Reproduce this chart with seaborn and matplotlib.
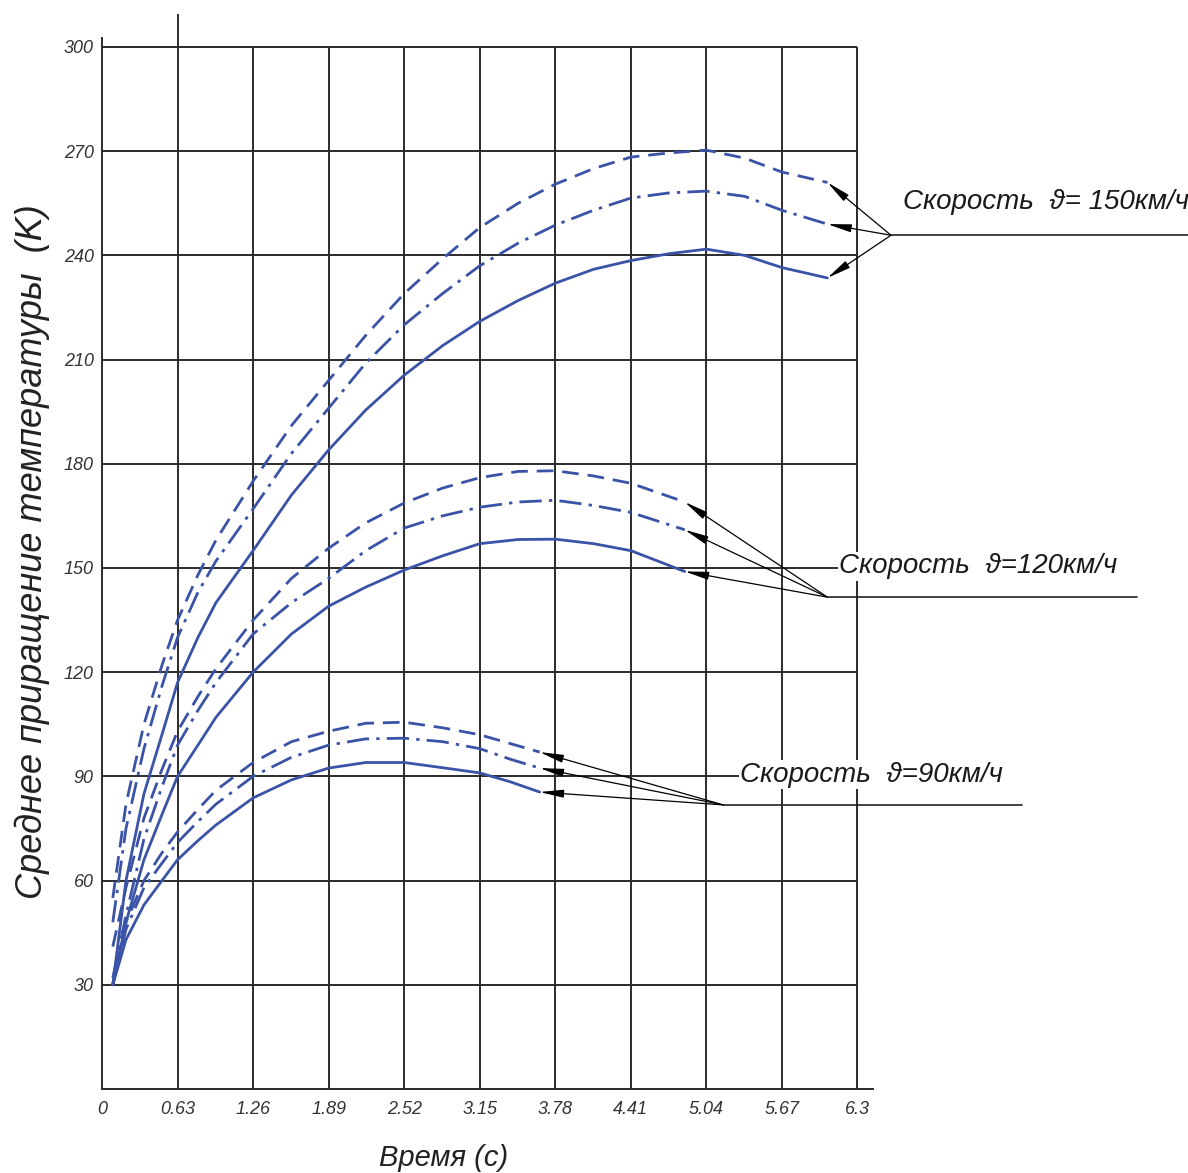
import numpy as np
import pandas as pd
import matplotlib
matplotlib.use("Agg")
import matplotlib.pyplot as plt
import seaborn as sns

# --- данные ---
t_150 = [0.09, 0.2, 0.35, 0.5, 0.63, 0.8, 0.95, 1.26, 1.58, 1.89, 2.2, 2.52,
         2.84, 3.15, 3.47, 3.78, 4.1, 4.41, 4.73, 5.04, 5.36, 5.67, 6.05]
v150_solid = [30, 60, 85, 102, 117, 130, 140, 155, 171, 184, 195.5, 205.5,
              214, 221, 227, 232, 236, 238.5, 240.5, 241.8, 240, 236.5, 233.5]
v150_dashdot = [48, 75, 98, 116, 130, 143, 152, 167, 183, 196, 209, 220,
                229, 237, 243.5, 248.7, 253, 256.5, 258, 258.5, 257, 253, 249]
v150_dash = [55, 82, 105, 122, 135, 148, 158, 175, 191, 204, 217, 229,
             239, 248, 255, 260.5, 265, 268.3, 269.5, 270.3, 268, 264, 261]

t_120 = [0.09, 0.2, 0.35, 0.5, 0.63, 0.8, 0.95, 1.26, 1.58, 1.89, 2.2, 2.52,
         2.84, 3.15, 3.47, 3.78, 4.1, 4.41, 4.86]
v120_solid = [30, 48, 66, 79, 90, 99, 107, 120, 131, 139, 144.5, 149.4,
              153.5, 157, 158.2, 158.3, 157, 155, 149]
v120_dashdot = [32, 50, 72, 87, 99, 109, 117, 131, 140, 147, 155, 161.5,
                165, 167.5, 169, 169.5, 168, 166, 161]
v120_dash = [41, 58, 78, 92, 103, 113, 121, 135, 147, 155.7, 163, 168.7,
             173, 176, 177.8, 178, 176.5, 174.4, 169]

t_90 = [0.09, 0.2, 0.35, 0.5, 0.63, 0.8, 0.95, 1.26, 1.58, 1.89, 2.2, 2.52,
        2.84, 3.15, 3.4, 3.65]
v90_solid = [30, 43, 53, 60, 66, 71.5, 76, 83.8, 89, 92.4, 94, 94,
             92.5, 91, 88.5, 85.5]
v90_dashdot = [30, 46, 58, 65, 71, 77, 82, 90, 95.5, 99, 100.8, 101,
               100, 98, 95, 92.4]
v90_dash = [30, 48, 60, 68, 74, 80.5, 86, 94, 100, 103, 105.3, 105.6,
            104, 102, 99.5, 97]

x_ticks = [0, 0.63, 1.26, 1.89, 2.52, 3.15, 3.78, 4.41, 5.04, 5.67, 6.3]
x_tick_labels = ["0", "0.63", "1.26", "1.89", "2.52", "3.15", "3.78", "4.41",
                 "5.04", "5.67", "6.3"]
y_ticks = [30, 60, 90, 120, 150, 180, 210, 240, 270, 300]

labels = {
    150: "Скорость  ϑ= 150км/ч",
    120: "Скорость  ϑ=120км/ч",
    90: "Скорость  ϑ=90км/ч",
}

curves = [
    (150, "solid", t_150, v150_solid), (150, "dashdot", t_150, v150_dashdot),
    (150, "dash", t_150, v150_dash),
    (120, "solid", t_120, v120_solid), (120, "dashdot", t_120, v120_dashdot),
    (120, "dash", t_120, v120_dash),
    (90, "solid", t_90, v90_solid), (90, "dashdot", t_90, v90_dashdot),
    (90, "dash", t_90, v90_dash),
]

rows = []
for speed, kind, ts, vs in curves:
    for t, v in zip(ts, vs):
        rows.append({"speed": speed, "kind": kind, "curve": f"{speed}_{kind}",
                     "t": t, "T": v})
df = pd.DataFrame(rows)

# --- оформление ---
sns.set_theme(style="white")
plt.rcParams["font.family"] = ["Liberation Sans", "DejaVu Sans"]

BLUE = "#3b53a6"
GRID = "#2b2b2b"

fig = plt.figure(figsize=(11.88, 11.73), dpi=100)
ax = fig.add_axes([102 / 1188, 84 / 1173, 771 / 1188, 1075 / 1173])
ax.set_xlim(0, 6.43)
ax.set_ylim(0, 309.5)

for s in ["top", "right"]:
    ax.spines[s].set_visible(False)
for s in ["left", "bottom"]:
    ax.spines[s].set_color(GRID)
    ax.spines[s].set_linewidth(1.4)
ax.spines["left"].set_bounds(0, 302.5)

# сетка
ax.hlines(y_ticks, 0, 6.3, color=GRID, lw=1.4, zorder=1)
ax.vlines(x_ticks[1:], 0, 300, color=GRID, lw=1.4, zorder=1)
ax.vlines([0.63], 300, 309.5, color=GRID, lw=1.4, zorder=1, clip_on=False)

sns.lineplot(data=df, x="t", y="T", units="curve", style="kind",
             dashes={"solid": "", "dash": (6, 3.2), "dashdot": (8, 2.6, 1.2, 2.6)},
             color=BLUE, lw=2.0, estimator=None, sort=False, legend=False,
             ax=ax, zorder=3)

ax.set_xticks(x_ticks)
ax.set_xticklabels(x_tick_labels)
ax.set_yticks(y_ticks)
ax.tick_params(axis="x", direction="out", length=6, width=1.4, color=GRID,
               pad=3, labelsize=13, labelcolor="#333333")
ax.tick_params(axis="y", direction="out", length=3, width=1.4, color=GRID,
               pad=3, labelsize=13, labelcolor="#333333")
for lab in ax.get_xticklabels() + ax.get_yticklabels():
    lab.set_fontstyle("italic")

ax.set_xlabel("Время (с)", fontsize=21, fontstyle="italic", color="#222222",
              labelpad=18, x=0.4436)
ax.set_ylabel("Среднее приращение температуры  (K)", fontsize=26,
              fontstyle="italic", color="#222222", labelpad=10, y=0.50)

# --- выноски ---
leaders = {
    # точка схождения стрелок, конец подчёркивания, позиция текста
    150: ((6.58, 245.8), 9.1, (6.68, 255.5)),
    120: ((6.05, 141.6), 8.63, (6.15, 150.5)),
    90: ((5.18, 81.8), 7.67, (5.32, 90.5)),
}
for speed, kind, ts, vs in curves:
    (cx, cy), _, _ = leaders[speed]
    ax.annotate("", xy=(ts[-1], vs[-1]), xytext=(cx, cy),
                arrowprops=dict(arrowstyle="-|>,head_length=1.2,head_width=0.2",
                                color="black", lw=0.9, shrinkA=0, shrinkB=0),
                annotation_clip=False, zorder=4)

for speed, ((cx, cy), x_end, (tx, ty)) in leaders.items():
    ax.plot([cx, x_end], [cy, cy], color="#222222", lw=1.2, clip_on=False, zorder=4)
    ax.text(tx, ty, labels[speed], fontsize=20, fontstyle="italic",
            color="#1a1a1a", va="center", ha="left", clip_on=False, zorder=5,
            bbox=dict(facecolor="white", edgecolor="none", pad=1.0))

fig.savefig("out.png", dpi=100, facecolor="white")
